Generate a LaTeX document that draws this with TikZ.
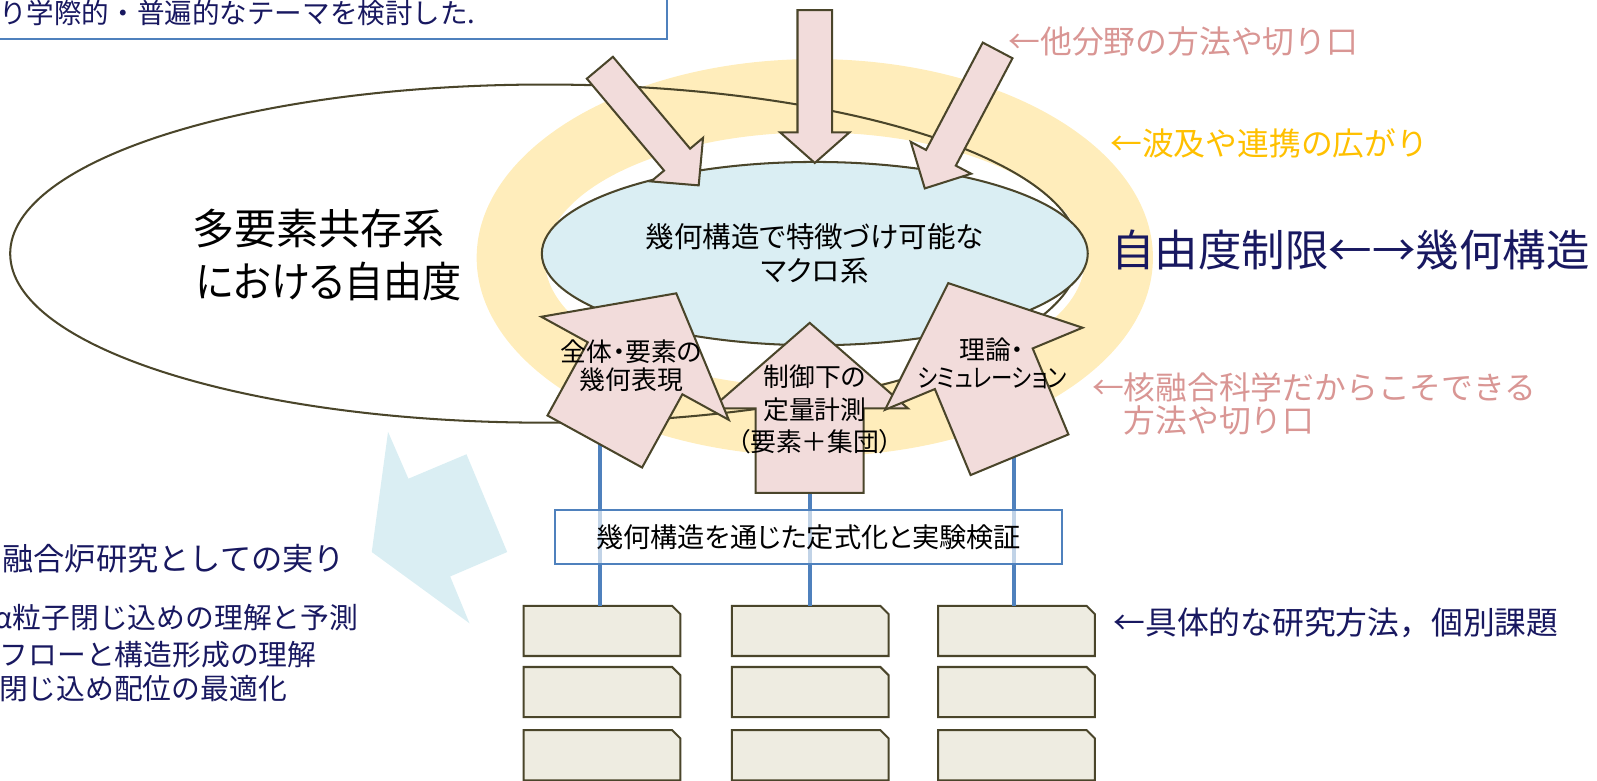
\documentclass[tikz,border=0pt]{standalone}
\usepackage{fontspec}
\setmainfont{Noto Sans CJK JP}
\newfontfamily\jpp{Noto Sans CJK JP}[RawFeature=+palt]
\usetikzlibrary{shapes.geometric}
\definecolor{outl}{RGB}{74,69,42}
\definecolor{pinkfill}{RGB}{242,220,219}
\definecolor{ltblue}{RGB}{218,238,243}
\definecolor{ringy}{RGB}{255,237,187}
\definecolor{beige}{RGB}{238,236,225}
\definecolor{bblue}{RGB}{79,129,189}
\definecolor{navy}{RGB}{24,24,96}
\definecolor{pinktxt}{RGB}{217,150,148}
\definecolor{goldtxt}{RGB}{255,192,0}
\tikzset{
  outline/.style={draw=outl, line width=1.5pt},
  fatshape/.style={outline, fill=pinkfill},
  lbl/.style={anchor=west, inner sep=0pt, font=\fontsize{23.4pt}{28pt}\selectfont},
  stackcore/.style={rectangle, inner sep=0pt, minimum width=115pt, minimum height=36.5pt},
  blueline/.style={draw=bblue, line width=3pt},
  armtext/.style={align=center, inner sep=0pt, font=\jpp\fontsize{19pt}{21pt}\selectfont},
}
% #1 x1, #2 y1 (tail centre), #3 x2, #4 y2 (tip), #5 shaft half width, #6 head half width, #7 head length
\newcommand\fatarrow[7]{%
  \pgfmathsetmacro\faang{atan2(-(#4-#2),#3-#1)}%
  \pgfmathsetmacro\falen{veclen(#3-#1,#4-#2)}%
  \pgfmathsetmacro\fab{\falen-#7}%
  \begin{scope}[shift={(#1,#2)}, rotate=\faang]
    \draw[fatshape] (0,#5) -- (\fab,#5) -- (\fab,#6) -- (\falen,0) -- (\fab,-#6) -- (\fab,-#5) -- (0,-#5) -- cycle;
  \end{scope}}
\begin{document}
\begin{tikzpicture}[x=0.75pt,y=-0.75pt]
\useasboundingbox (0,0) rectangle (1568,766);

% intro box
\draw[bblue, line width=1.5pt, fill=white] (-10,-10) rectangle (655,38);
\node[anchor=west, inner sep=0pt, text=navy, font=\fontsize{20.3pt}{24pt}\selectfont] (intro) at (-1,13) {り学際的・普遍的なテーマを検討した.};

% yellow ring
\fill[ringy, even odd rule] (800,253) ellipse [x radius=332, y radius=195] (800,255) ellipse [x radius=265, y radius=125];

% big ellipse
\node[ellipse, outline, minimum width=787.5pt, minimum height=249pt, inner sep=0pt] (freedom) at (535,249) {};
\node[inner sep=0pt, font=\jpp\fontsize{31pt}{36pt}\selectfont] (fr1) at (313,224) {多要素共存系};
\node[inner sep=0pt, font=\jpp\fontsize{31pt}{36pt}\selectfont] (fr2) at (323,276) {\scalebox{0.93}[1]{における自由度}};

% light blue arrow
\fill[ltblue] (381,424) -- (401,470) -- (458,446) -- (498,542) -- (442,566) -- (461,612) -- (365,542) -- cycle;

% macro ellipse
\node[ellipse, outline, fill=ltblue, minimum width=402pt, minimum height=135pt, inner sep=0pt, align=center, font=\jpp\fontsize{21pt}{25pt}\selectfont] (macro) at (800,249) {幾何構造で特徴づけ可能な\\マクロ系};

% top arrows
\fatarrow{800}{10}{800}{160}{17}{34}{30}
\fatarrow{589}{66.5}{686}{182}{16.7}{33.3}{33}
\fatarrow{979.5}{49.5}{908}{185}{16.5}{33.5}{34}

% stacked boxes
\foreach \cx/\col in {591/1,795.5/2,998/3}{
  \foreach \cy/\row in {619.5/1,679.5/2,741.5/3}{
    \node[stackcore] (b\col\row) at (\cx,\cy) {};
    \draw[outline, fill=beige] (b\col\row.south west) -- (b\col\row.north west) -- ([xshift=-6pt]b\col\row.north east) -- ([yshift=-6pt]b\col\row.north east) -- (b\col\row.south east) -- cycle;
  }
}

% blue lines
\coordinate (l1) at (589,425);
\coordinate (l2) at (795,470);
\coordinate (l3) at (996,440);
\draw[blueline] (l1) -- (l1 |- b11.north);
\draw[blueline] (l2) -- (l2 |- b21.north);
\draw[blueline] (l3) -- (l3 |- b31.north);

% formalisation box
\node[draw=bblue, line width=1.5pt, fill=white, fill opacity=0.65, text opacity=1, minimum width=373.5pt, minimum height=39.75pt, inner sep=0pt, font=\jpp\fontsize{20pt}{24pt}\selectfont] (formal) at (794,527.5) {幾何構造を通じた定式化と実験検証};

% bottom arrows
\fatarrow{795}{484}{795}{317}{53}{96.5}{84}
\fatarrow{584}{433.5}{664}{288}{53}{105}{84}
\fatarrow{1001}{446.5}{931}{278}{52}{105}{91}
\node[armtext] (ta1) at (620,359) {全体・要素の\\幾何表現};
\node[armtext, font=\jpp\fontsize{19pt}{24pt}\selectfont] (ta2) at (800,402) {制御下の\\定量計測\\（要素＋集団）};
\node[armtext] (ta3) at (974,357) {理論・\\\scalebox{0.83}[1]{シミュレーション}};

% bottom-left texts
\node[anchor=east, inner sep=0pt, text=navy, font=\fontsize{23pt}{27pt}\selectfont] (fruit) at (339,549) {融合炉研究としての実り};
\node[anchor=east, inner sep=0pt, text=navy, font=\fontsize{21.2pt}{25pt}\selectfont] (it1) at (352,606) {α粒子閉じ込めの理解と予測};
\node[anchor=east, inner sep=0pt, text=navy, font=\fontsize{21.2pt}{25pt}\selectfont] (it2) at (311,643) {フローと構造形成の理解};
\node[anchor=east, inner sep=0pt, text=navy, font=\fontsize{21.2pt}{25pt}\selectfont] (it3) at (282,676) {閉じ込め配位の最適化};

% right labels
\node[lbl, text=pinktxt] (lb1) at (990,41) {←他分野の方法や切り口};
\node[lbl, text=goldtxt] (lb2) at (1090,141) {←波及や連携の広がり};
\node[anchor=west, inner sep=0pt, text=navy, font=\fontsize{32pt}{36pt}\selectfont] (lb3) at (1091,245) {自由度制限←→幾何構造};
\node[lbl, text=pinktxt] (lb4) at (1072,380) {←核融合科学だからこそできる};
\node[lbl, text=pinktxt] (lb5) at (1103,413) {方法や切り口};
\node[lbl, text=navy] (lb6) at (1093,611) {←具体的な研究方法，個別課題};
\end{tikzpicture}
\end{document}
